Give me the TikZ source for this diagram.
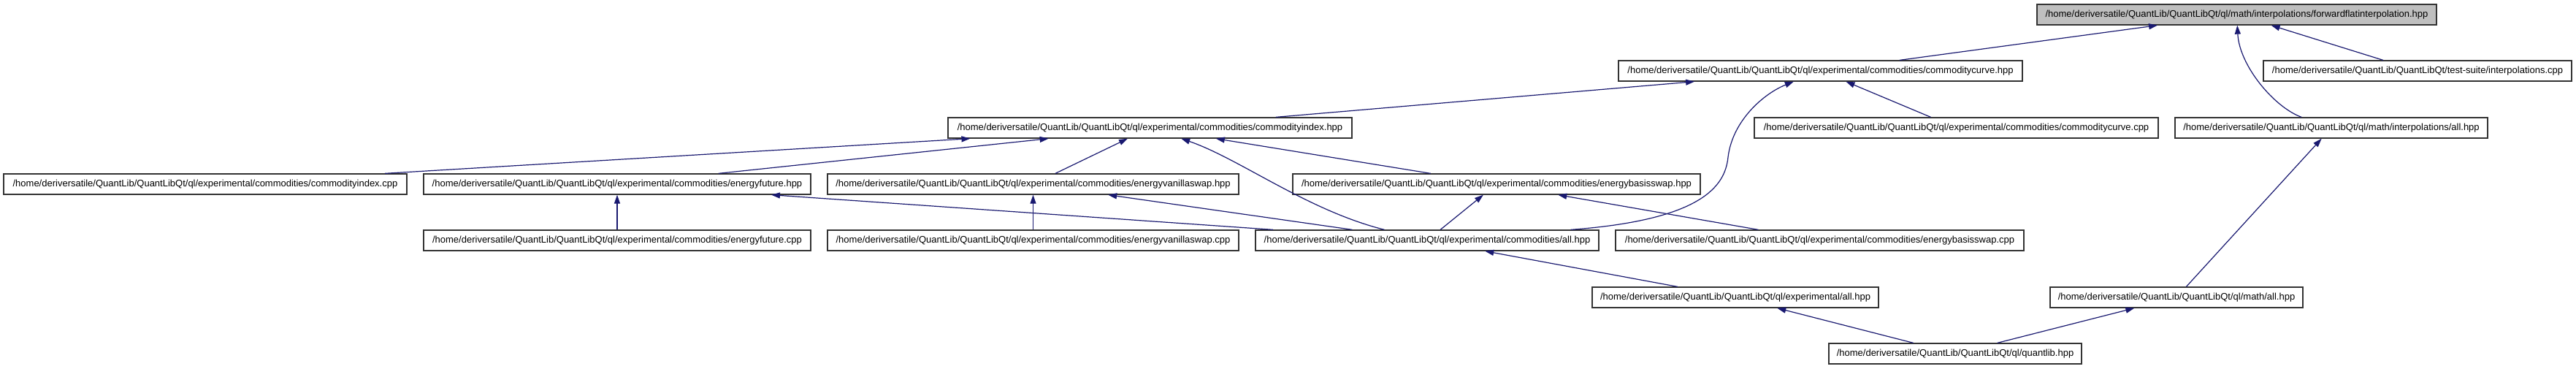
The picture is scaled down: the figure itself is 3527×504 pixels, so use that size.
\documentclass[tikz,border=0pt]{standalone}
\usepackage{fontspec}
\usepackage{xcolor}
\usetikzlibrary{arrows.meta}
\newfontfamily\doxfont{Liberation Sans}
\definecolor{edgeblue}{HTML}{191970}
\definecolor{rootgray}{HTML}{BFBFBF}

\begin{document}
\begin{tikzpicture}[x=1pt, y=-1pt,
    file/.style={draw=black!80, line width=1.3pt, minimum height=28pt, inner sep=0pt, anchor=center, font=\doxfont\fontsize{13}{15}\selectfont},
    dep/.style={draw=edgeblue, line width=1.2pt, -{Triangle[length=12pt, width=8pt]}}]
\useasboundingbox (0,0) rectangle (3527,504);
\node[file, fill=rootgray, minimum width=547pt] (root) at (3062.5,20) {/home/deriversatile/QuantLib/QuantLibQt/ql/math/interpolations/forwardflatinterpolation.hpp};

\node[file, minimum width=553pt] (ccurve) at (2492.5,97) {/home/deriversatile/QuantLib/QuantLibQt/ql/experimental/commodities/commoditycurve.hpp};
\node[file, minimum width=422pt] (tsinterp) at (3310,97) {/home/deriversatile/QuantLib/QuantLibQt/test-suite/interpolations.cpp};

\node[file, minimum width=553pt] (cindex) at (1574.5,175) {/home/deriversatile/QuantLib/QuantLibQt/ql/experimental/commodities/commodityindex.hpp};
\node[file, minimum width=553pt] (ccurvecpp) at (2678.5,175) {/home/deriversatile/QuantLib/QuantLibQt/ql/experimental/commodities/commoditycurve.cpp};
\node[file, minimum width=428pt] (interpall) at (3192,175) {/home/deriversatile/QuantLib/QuantLibQt/ql/math/interpolations/all.hpp};

\node[file, minimum width=552pt] (cindexcpp) at (281,252) {/home/deriversatile/QuantLib/QuantLibQt/ql/experimental/commodities/commodityindex.cpp};
\node[file, minimum width=530pt] (efuture) at (845,252) {/home/deriversatile/QuantLib/QuantLibQt/ql/experimental/commodities/energyfuture.hpp};
\node[file, minimum width=563pt] (evswap) at (1414.5,252) {/home/deriversatile/QuantLib/QuantLibQt/ql/experimental/commodities/energyvanillaswap.hpp};
\node[file, minimum width=558pt] (ebswap) at (2049,252) {/home/deriversatile/QuantLib/QuantLibQt/ql/experimental/commodities/energybasisswap.hpp};

\node[file, minimum width=530pt] (efuturecpp) at (845,329) {/home/deriversatile/QuantLib/QuantLibQt/ql/experimental/commodities/energyfuture.cpp};
\node[file, minimum width=563pt] (evswapcpp) at (1414.5,329) {/home/deriversatile/QuantLib/QuantLibQt/ql/experimental/commodities/energyvanillaswap.cpp};
\node[file, minimum width=470pt] (commall) at (1954,329) {/home/deriversatile/QuantLib/QuantLibQt/ql/experimental/commodities/all.hpp};
\node[file, minimum width=559pt] (ebswapcpp) at (2491.5,329) {/home/deriversatile/QuantLib/QuantLibQt/ql/experimental/commodities/energybasisswap.cpp};

\node[file, minimum width=392pt] (expall) at (2376,407) {/home/deriversatile/QuantLib/QuantLibQt/ql/experimental/all.hpp};
\node[file, minimum width=346pt] (mathall) at (2980,407) {/home/deriversatile/QuantLib/QuantLibQt/ql/math/all.hpp};

\node[file, minimum width=346pt] (quantlib) at (2677,484) {/home/deriversatile/QuantLib/QuantLibQt/ql/quantlib.hpp};

\draw[dep] (ccurve) -- (root);
\draw[dep] (interpall) .. controls (3114,147) and (3066,90) .. (root);
\draw[dep] (tsinterp) -- (root);
\draw[dep] (cindex) -- (ccurve);
\draw[dep] (commall) .. controls (2330,301) and (2362,255) .. (2366,215) .. controls (2372,165) and (2415,128) .. (ccurve);
\draw[dep] (ccurvecpp) -- (ccurve);
\draw[dep] (mathall) -- (interpall);
\draw[dep] (cindexcpp) -- (cindex);
\draw[dep] (efuture) -- (cindex);
\draw[dep] (evswap) -- (cindex);
\draw[dep] (commall) .. controls (1790,288) and (1697,217) .. (cindex);
\draw[dep] (ebswap) -- (cindex);
\draw[dep] (efuturecpp) -- (efuture);
\draw[dep] (commall) -- (efuture);
\draw[dep] (evswapcpp) -- (evswap);
\draw[dep] (commall) -- (evswap);
\draw[dep] (commall) -- (ebswap);
\draw[dep] (ebswapcpp) -- (ebswap);
\draw[dep] (expall) -- (commall);
\draw[dep] (quantlib) -- (expall);
\draw[dep] (quantlib) -- (mathall);
\end{tikzpicture}
\end{document}
